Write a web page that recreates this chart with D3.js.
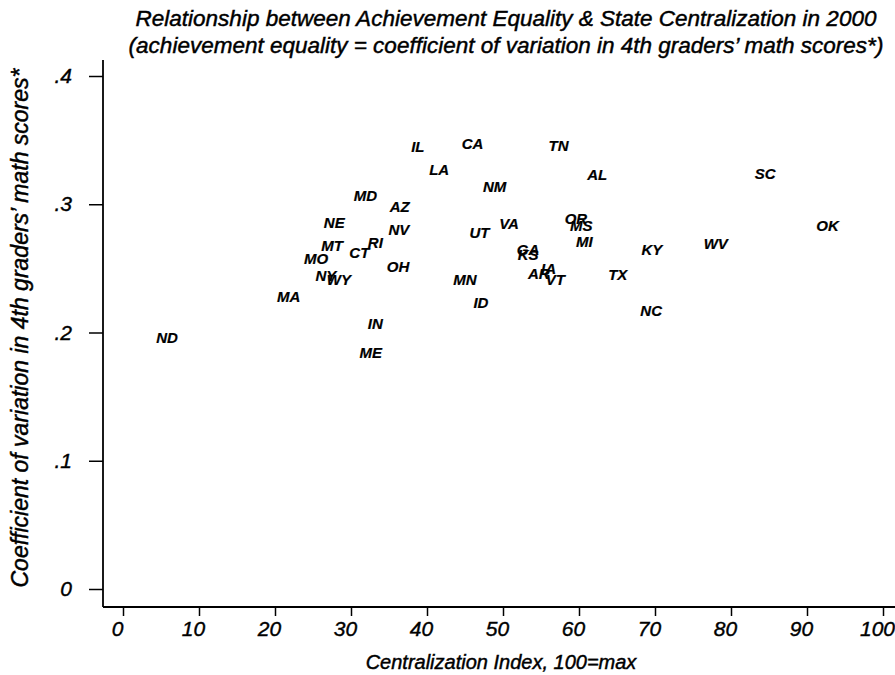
<!DOCTYPE html>
<html>
<head>
<meta charset="utf-8">
<script src="https://cdn.jsdelivr.net/npm/d3@7/dist/d3.min.js"></script>
<style>
  html, body { margin: 0; padding: 0; background: #fff; }
  svg { display: block; }
  text { font-family: "Liberation Sans", Arial, Helvetica, sans-serif; fill: #000; }
</style>
</head>
<body>
<script>
// State abbreviations, centralization index (x) and coefficient of variation (y)
const states = ["ND","MA","MO","NE","MT","NY","WY","CT","RI","MD","AZ","NV","OH","IN","ME",
  "IL","LA","CA","NM","UT","VA","MN","ID","GA","KS","AR","IA","VT","TN","OR","MS","MI","AL",
  "TX","KY","NC","WV","SC","OK"];
const centralization = [5.8,21.8,25.4,27.8,27.5,26.7,28.4,31.1,33.2,31.9,36.4,36.3,36.2,33.2,32.6,
  38.8,41.6,46.0,48.9,46.9,50.8,45.0,47.1,53.3,53.3,54.7,56.0,56.9,57.3,59.6,60.3,60.7,62.4,
  65.1,69.6,69.5,78.0,84.5,92.7];
const coefVariation = [.196,.228,.258,.286,.268,.244,.241,.262,.270,.307,.298,.280,.251,.207,.184,
  .345,.327,.347,.314,.278,.285,.241,.223,.265,.261,.246,.250,.241,.346,.289,.283,.271,.323,
  .245,.265,.217,.269,.324,.283];

const xTicks = [0,10,20,30,40,50,60,70,80,90,100];
const yTicks = [0,.1,.2,.3,.4];

const titleLines = [
  "Relationship between Achievement Equality & State Centralization in 2000",
  "(achievement equality = coefficient of variation in 4th graders\u2019 math scores*)"
];
const xTitle = "Centralization Index, 100=max";
const yTitle = "Coefficient of variation in 4th graders\u2019 math scores*";

const W = 895, H = 675;
const svg = d3.select("body").append("svg").attr("width", W).attr("height", H);

const axisX = 103, axisY = 607;
const x = d3.scaleLinear().domain([0, 100]).range([123, 883]);
const y = d3.scaleLinear().domain([0, .4]).range([589, 76]);

// Axis lines
svg.append("line").attr("x1", axisX).attr("x2", axisX).attr("y1", 60).attr("y2", axisY)
  .attr("stroke", "#000").attr("stroke-width", 1.8);
svg.append("line").attr("x1", axisX).attr("x2", W).attr("y1", axisY).attr("y2", axisY)
  .attr("stroke", "#000").attr("stroke-width", 1.8);

const fmtY = d => d === 0 ? "0" : d3.format(".1f")(d).replace(/^0/, "");

const gx = svg.append("g").attr("transform", `translate(0,${axisY})`)
  .call(d3.axisBottom(x).tickValues(xTicks).tickSize(9).tickPadding(5).tickFormat(d3.format("d")));
const gy = svg.append("g").attr("transform", `translate(${axisX},0)`)
  .call(d3.axisLeft(y).tickValues(yTicks).tickSize(14).tickPadding(17).tickFormat(fmtY));

[gx, gy].forEach(g => {
  g.select(".domain").remove();
  g.selectAll(".tick line").attr("stroke", "#000").attr("stroke-width", 1.5);
  g.selectAll(".tick text").attr("font-size", 21).attr("font-style", "italic")
    .attr("font-family", "'Liberation Sans', Arial, sans-serif")
    .attr("stroke", "#000").attr("stroke-width", 0.4);
});
gx.selectAll(".tick text").attr("dx", -6);

const heavy = sel => sel.attr("stroke", "#000").attr("stroke-width", 0.45);

// Titles
svg.selectAll("text.title").data(titleLines).enter().append("text")
  .attr("class", "title")
  .attr("x", 506).attr("y", (d, i) => 26 + i * 27)
  .attr("text-anchor", "middle").attr("font-size", 22.5).attr("font-style", "italic")
  .text(d => d).call(heavy);

svg.append("text").attr("x", 501).attr("y", 669).attr("text-anchor", "middle")
  .attr("font-size", 20).attr("font-style", "italic").text(xTitle).call(heavy);

svg.append("text").attr("transform", "translate(28,328) rotate(-90)")
  .attr("text-anchor", "middle").attr("font-size", 23).attr("font-style", "italic").text(yTitle).call(heavy);

// State labels used as the plotted markers
const data = states.map((s, i) => ({ s, cx: centralization[i], cv: coefVariation[i] }));
svg.append("g").selectAll("text").data(data).enter().append("text")
  .attr("x", d => x(d.cx)).attr("y", d => y(d.cv))
  .attr("text-anchor", "middle").attr("dy", "0.36em")
  .attr("font-size", 15).attr("font-weight", "bold").attr("font-style", "italic")
  .attr("stroke", "#000").attr("stroke-width", 0.2)
  .text(d => d.s);
</script>
</body>
</html>
